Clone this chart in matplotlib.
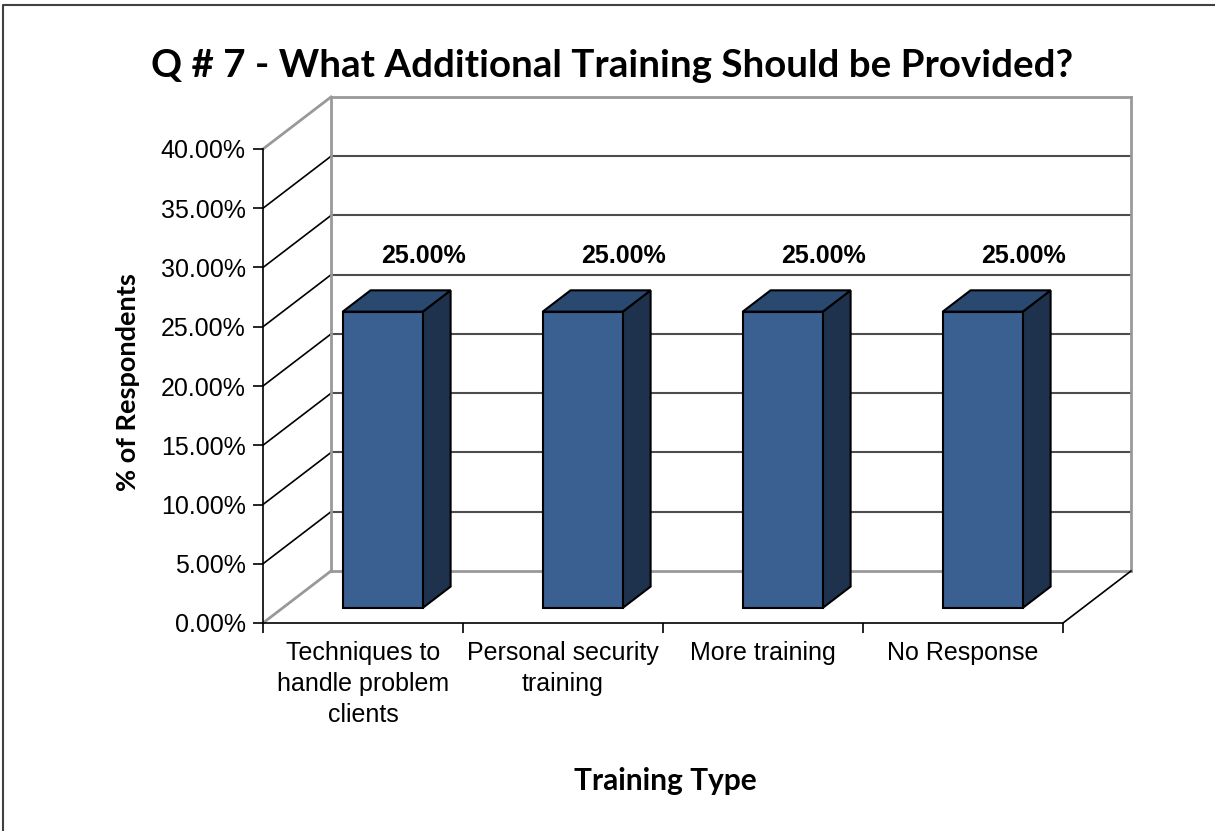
import matplotlib
matplotlib.use("Agg")
import matplotlib.pyplot as plt
from matplotlib.patches import Polygon
from matplotlib.lines import Line2D

plt.rcParams['font.family'] = ['Liberation Sans', 'DejaVu Sans']

# ── data ──
categories = ['Techniques to\nhandle problem\nclients', 'Personal security\ntraining',
              'More training', 'No Response']
values = [25.0, 25.0, 25.0, 25.0]
yticks = [0, 5, 10, 15, 20, 25, 30, 35, 40]

# ── fake 3D (oblique) projection ──
DX = 0.34    # x shift (category units) for full depth
DY = 4.39    # y shift (% units) for full depth
BAR_W = 0.40
D0, D1 = 0.29, 0.70   # bar depth range


def proj(x, y, d):
    return (x + DX * d, y + DY * d)


FRONT = '#3A5F91'
TOP = '#2A4970'
SIDE = '#1F324D'
WALL = '#999999'
GRID = '#4d4d4d'

fig = plt.figure(figsize=(12.15, 8.31), dpi=100)
ax = fig.add_axes([263/1215, 1-623/831, 800/1215, 474/831])
ax.set_xlim(0, len(categories))
ax.set_ylim(0, 40)

# back wall gridlines + frame
ymax = yticks[-1]
for v in yticks:
    edge = v in (0, ymax)
    c = WALL if edge else GRID
    lw = 2 if edge else 1.5
    x0, y0 = proj(0, v, 1)
    x1, y1 = proj(len(categories), v, 1)
    ax.plot([x0, x1], [y0, y1], color=c, lw=lw, clip_on=False, zorder=1)
    # side wall diagonals
    xa, ya = proj(0, v, 0)
    ax.plot([xa, x0], [ya, y0], color=c if edge else 'black',
            lw=lw if edge else 1.2, clip_on=False, zorder=1)
for xe in (0, len(categories)):
    xa, ya = proj(xe, 0, 1)
    xb, yb = proj(xe, ymax, 1)
    ax.plot([xa, xb], [ya, yb], color=WALL, lw=2, clip_on=False, zorder=1)
# floor right edge
xa, ya = proj(len(categories), 0, 0)
xb, yb = proj(len(categories), 0, 1)
ax.plot([xa, xb], [ya, yb], color='black', lw=1.2, clip_on=False, zorder=1)

# bars
for i, v in enumerate(values):
    xl = i + 0.5 - BAR_W / 2
    xr = i + 0.5 + BAR_W / 2
    front = [proj(xl, 0, D0), proj(xr, 0, D0), proj(xr, v, D0), proj(xl, v, D0)]
    top = [proj(xl, v, D0), proj(xr, v, D0), proj(xr, v, D1), proj(xl, v, D1)]
    side = [proj(xr, 0, D0), proj(xr, 0, D1), proj(xr, v, D1), proj(xr, v, D0)]
    for pts, col in ((side, SIDE), (top, TOP), (front, FRONT)):
        ax.add_patch(Polygon(pts, closed=True, facecolor=col, edgecolor='black',
                             lw=1.5, joinstyle='miter', zorder=3, clip_on=False))
    ax.annotate(f'{v:.2f}%', proj(i + 0.5, v, D1), xytext=(9, 25),
                textcoords='offset points', ha='center', va='center',
                fontsize=18, fontweight='bold', zorder=4)

# axes
for s in ('top', 'right'):
    ax.spines[s].set_visible(False)
for s in ('left', 'bottom'):
    ax.spines[s].set_linewidth(1.2)
    ax.spines[s].set_zorder(2)
ax.set_yticks(yticks)
ax.set_yticklabels([f'{t:.2f}%' for t in yticks], fontsize=18)
ax.tick_params(axis='y', direction='out', length=7.5, width=1.2, pad=5)
ax.set_xticks(range(len(categories) + 1))
ax.set_xticklabels([])
ax.tick_params(axis='x', which='major', direction='out', length=7.5, width=1.2)
ax.set_xticks([i + 0.5 for i in range(len(categories))], minor=True)
ax.set_xticklabels(categories, minor=True, fontsize=18, linespacing=1.38)
ax.tick_params(axis='x', which='minor', length=0, pad=13)
ax.patch.set_visible(False)

ax.set_ylabel('% of Respondents', family='Lato', fontweight='bold', fontsize=19.5)
ax.yaxis.set_label_coords(-0.154, 0.508)
ax.set_xlabel('Training Type', family='Lato', fontweight='bold', fontsize=21.5)
ax.xaxis.set_label_coords(0.5025, -0.304)

fig.text(612/1215, 1-66/831, 'Q # 7 - What Additional Training Should be Provided?',
         family='Lato', fontweight='bold', fontsize=27.7, ha='center', va='center')

# chart border (only left and top edges fall inside the picture)
fig.lines.append(Line2D([2.5/1215, 2.5/1215, 1], [0, 1-5/831, 1-5/831],
                        transform=fig.transFigure, color='#404040', lw=1.5))

fig.savefig('out.png', dpi=100)
